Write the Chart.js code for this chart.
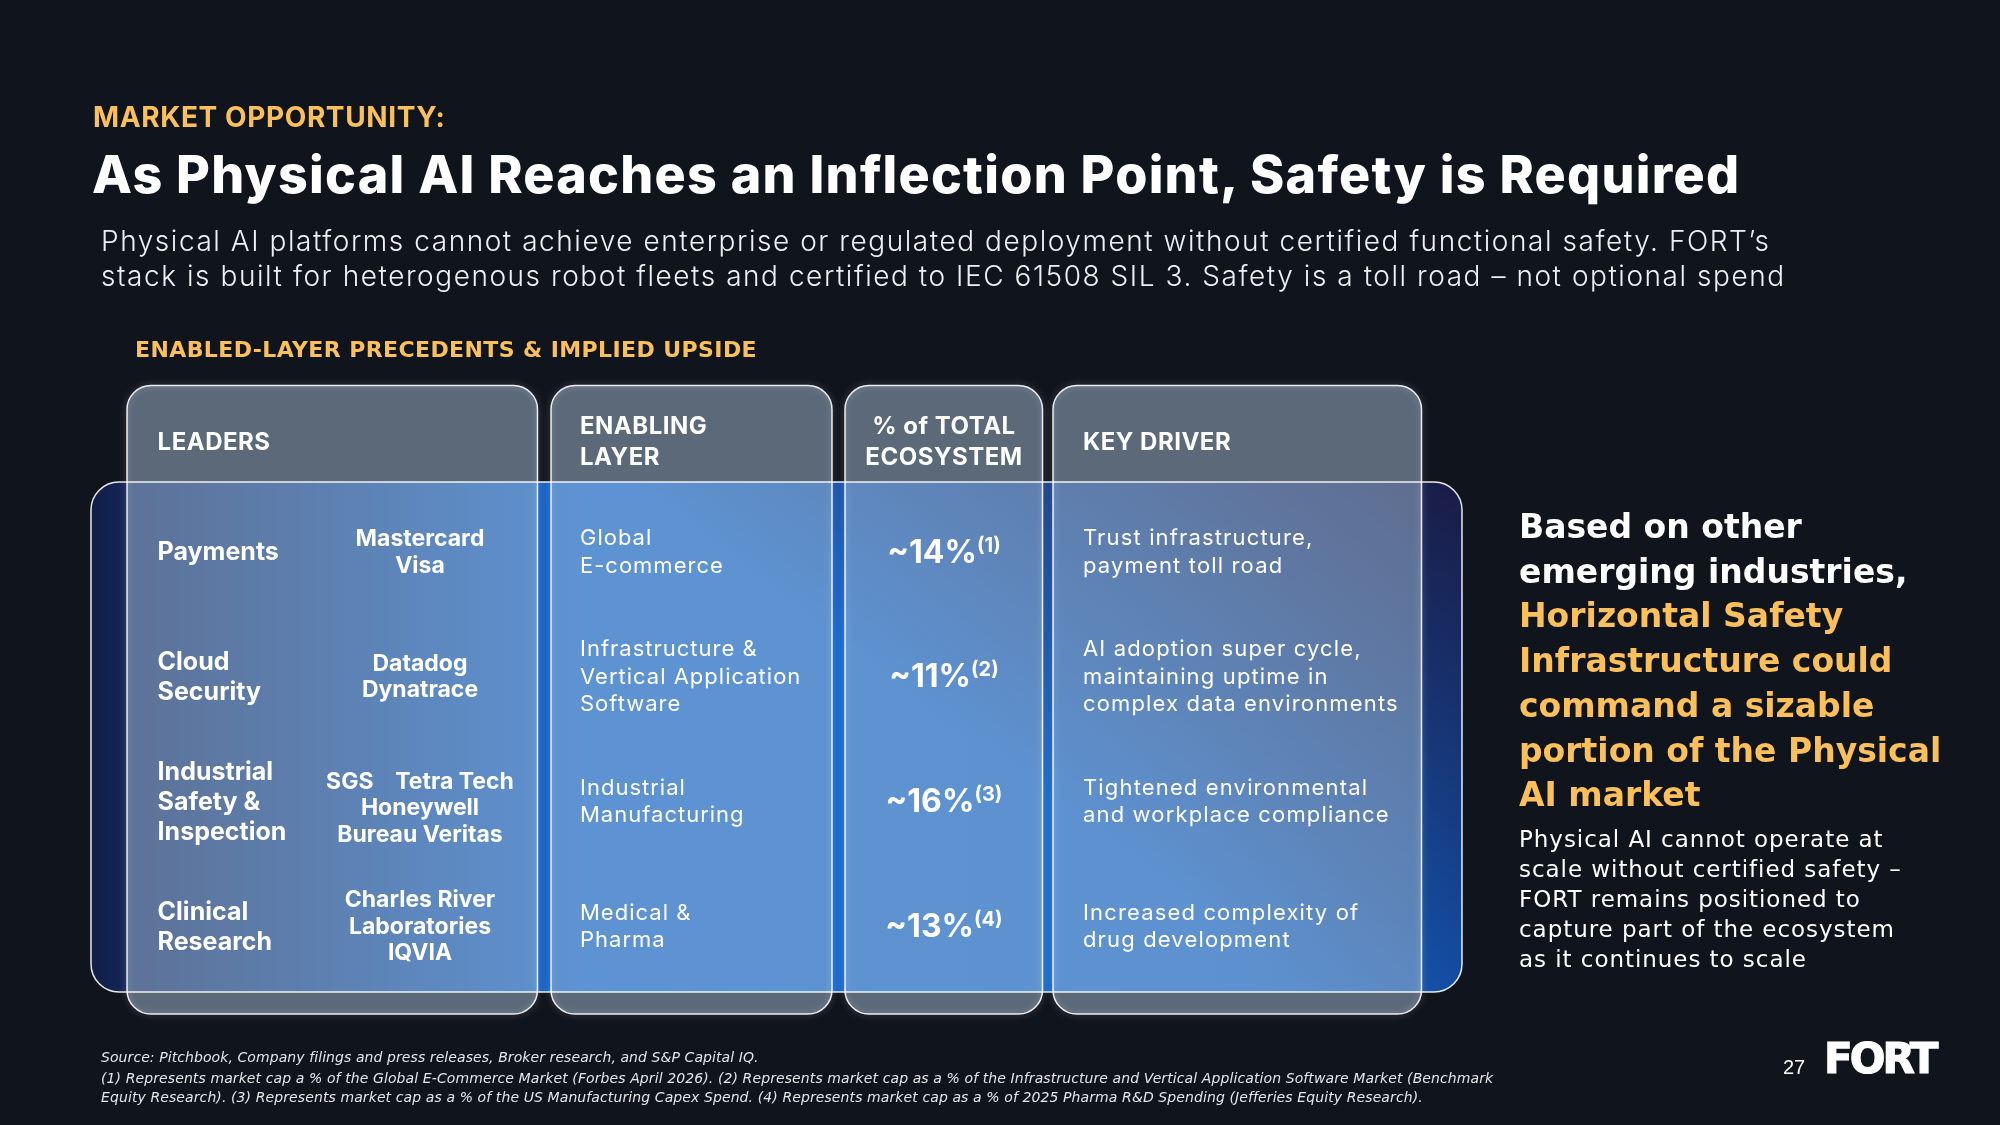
<!DOCTYPE html>
<html>
<head>
<meta charset="utf-8">
<script src="https://cdn.jsdelivr.net/npm/chart.js@4.4.1/dist/chart.umd.min.js"></script>
<style>
  html, body { margin: 0; padding: 0; background: #10141d; }
  #page { position: relative; width: 2000px; height: 1125px; overflow: hidden; background: #10141d; color: #fff; font-family: Inter, "Noto Sans", sans-serif; }
  #chartBox { position: absolute; left: 0; top: 0; width: 2000px; height: 1125px; }
  .t { position: absolute; white-space: nowrap; }
  .kicker { left: 93px; top: 103px; font: 700 28px/28px Inter, sans-serif; color: #fbc05a; letter-spacing: 0.6px; }
  .title { left: 92px; top: 149px; font: 800 52px/52px Inter, sans-serif; color: #fff; letter-spacing: 1.25px; }
  .sub { left: 101px; top: 224px; font: 300 28px/35px Inter, sans-serif; color: #eef0f3; letter-spacing: 1.55px; }
  .section { left: 135px; top: 339px; font: 700 22px/22px "DejaVu Sans", sans-serif; color: #fbc05a; letter-spacing: 0.4px; }
  .sideHead { left: 1519px; top: 505px; font: 700 33px/44.7px "DejaVu Sans", sans-serif; color: #fff; }
  .sideHead .hl { color: #fbc05a; }
  .sideBody { left: 1519px; top: 824px; font: 400 23px/30px "DejaVu Sans", sans-serif; color: #fff; letter-spacing: 0.95px; }
  .src { left: 101px; top: 1048px; font: italic 400 14px/19px "DejaVu Sans", sans-serif; color: #e4e6ea; letter-spacing: 0.08px; }
  .notes { left: 101px; top: 1069px; font: italic 400 14px/19px "DejaVu Sans", sans-serif; color: #e4e6ea; letter-spacing: 0.1px; }
  .pageNo { left: 1783px; top: 1057px; font: 400 20px/20px "Liberation Sans", Arial, sans-serif; color: #fff; }
  .logo { left: 1824px; top: 1038px; font: 700 42px/42px "DejaVu Sans", sans-serif; color: #fff; letter-spacing: -3px; -webkit-text-stroke: 1.2px #fff; }
</style>
</head>
<body>
<div id="page">
  <div id="chartBox"><canvas id="tableChart"></canvas></div>

  <div class="t kicker">MARKET OPPORTUNITY:</div>
  <div class="t title">As Physical AI Reaches an Inflection Point, Safety is Required</div>
  <div class="t sub">Physical AI platforms cannot achieve enterprise or regulated deployment without certified functional safety. FORT’s<br>stack is built for heterogenous robot fleets and certified to IEC 61508 SIL 3. Safety is a toll road – not optional spend</div>
  <div class="t section">ENABLED-LAYER PRECEDENTS &amp; IMPLIED UPSIDE</div>

  <div class="t sideHead">Based on other<br>emerging industries,<br><span class="hl">Horizontal Safety<br>Infrastructure could<br>command a sizable<br>portion of the Physical<br>AI market</span></div>
  <div class="t sideBody">Physical AI cannot operate at<br>scale without certified safety –<br>FORT remains positioned to<br>capture part of the ecosystem<br>as it continues to scale</div>

  <div class="t src">Source: Pitchbook, Company filings and press releases, Broker research, and S&amp;P Capital IQ.</div>
  <div class="t notes">(1) Represents market cap a % of the Global E-Commerce Market (Forbes April 2026). (2) Represents market cap as a % of the Infrastructure and Vertical Application Software Market (Benchmark<br>Equity Research). (3) Represents market cap as a % of the US Manufacturing Capex Spend. (4) Represents market cap as a % of 2025 Pharma R&amp;D Spending (Jefferies Equity Research).</div>
  <div class="t pageNo">27</div>
  <div class="t logo">FORT</div>
</div>

<script>
// table content, one entry per row
const headers = [["LEADERS"], ["ENABLING", "LAYER"], ["% of TOTAL", "ECOSYSTEM"], ["KEY DRIVER"]];
const sectors = [["Payments"], ["Cloud", "Security"], ["Industrial", "Safety &", "Inspection"], ["Clinical", "Research"]];
const leaders = [["Mastercard", "Visa"], ["Datadog", "Dynatrace"], ["SGS    Tetra Tech", "Honeywell", "Bureau Veritas"], ["Charles River", "Laboratories", "IQVIA"]];
const layers = [["Global", "E-commerce"], ["Infrastructure &", "Vertical Application", "Software"], ["Industrial", "Manufacturing"], ["Medical &", "Pharma"]];
const shares = [14, 11, 16, 13];
const footnotes = ["(1)", "(2)", "(3)", "(4)"];
const drivers = [["Trust infrastructure,", "payment toll road"], ["AI adoption super cycle,", "maintaining uptime in", "complex data environments"], ["Tightened environmental", "and workplace compliance"], ["Increased complexity of", "drug development"]];

const rowKeys = sectors.map(s => s.join(" "));

// layout of the columns, in x-scale units (px from band left edge)
const colSpans = [[36, 446.5], [460, 741], [754, 951.5], [962, 1330.5]];
const FONT = "Inter, 'Noto Sans', sans-serif";

function drawLines(ctx, lines, x, cy, lh, size) {
    const cap = size * 0.727;
    const first = cy - (lines.length - 1) * lh / 2 + cap / 2;
    lines.forEach((s, k) => ctx.fillText(s, x, first + k * lh));
}

const tablePlugin = {
    id: "tablePlugin",
    afterDraw(chart) {
        const { ctx, chartArea, scales } = chart;
        const xs = scales.x, ys = scales.y;
        const bandL = xs.getPixelForValue(0), bandR = xs.getPixelForValue(1371);
        const bandT = chartArea.top - 6.5, bandB = chartArea.bottom + 4;
        const boxT = bandT - 96.5, boxB = bandB + 22;

        ctx.save();
        // blue band
        const g = ctx.createLinearGradient(bandL, 0, bandR, 0);
        g.addColorStop(0, "#111e48");
        g.addColorStop(0.03, "#14275a");
        g.addColorStop(0.36, "#1668cf");
        g.addColorStop(0.8, "#1565ca");
        g.addColorStop(1, "#1258b6");
        ctx.beginPath();
        ctx.roundRect(bandL, bandT, bandR - bandL, bandB - bandT, 28);
        ctx.fillStyle = g;
        ctx.fill();
        const g2 = ctx.createLinearGradient(bandR, bandT, bandR - 330, bandB - 60);
        g2.addColorStop(0, "rgba(26,27,68,1)");
        g2.addColorStop(0.9, "rgba(26,27,68,0)");
        ctx.fillStyle = g2;
        ctx.fill();

        // column boxes
        colSpans.forEach(([a, b]) => {
            const x0 = xs.getPixelForValue(a), x1 = xs.getPixelForValue(b);
            ctx.beginPath();
            ctx.roundRect(x0, boxT, x1 - x0, boxB - boxT, 24);
            ctx.fillStyle = "rgba(166,190,214,0.5)";
            ctx.fill();
        });
        ctx.shadowColor = "rgba(255,255,255,0.45)";
        ctx.shadowBlur = 7;
        ctx.strokeStyle = "rgba(255,255,255,0.9)";
        ctx.lineWidth = 1.5;
        colSpans.forEach(([a, b]) => {
            const x0 = xs.getPixelForValue(a), x1 = xs.getPixelForValue(b);
            ctx.beginPath();
            ctx.roundRect(x0, boxT, x1 - x0, boxB - boxT, 24);
            ctx.stroke();
        });
        ctx.shadowBlur = 0;
        ctx.beginPath();
        ctx.roundRect(bandL, bandT, bandR - bandL, bandB - bandT, 28);
        ctx.stroke();

        // header row
        ctx.fillStyle = "#ffffff";
        const hy = bandT - 41;
        ctx.font = "700 24px " + FONT;
        ctx.letterSpacing = "0.5px";
        ctx.textAlign = "left";
        drawLines(ctx, headers[0], xs.getPixelForValue(66.6), hy, 31, 24);
        drawLines(ctx, headers[1], xs.getPixelForValue(489), hy, 31, 24);
        ctx.textAlign = "center";
        drawLines(ctx, headers[2], xs.getPixelForValue(853), hy, 31, 24);
        ctx.textAlign = "left";
        drawLines(ctx, headers[3], xs.getPixelForValue(992), hy, 31, 24);
        ctx.letterSpacing = "0px";

        // body rows
        rowKeys.forEach((key, i) => {
            const cy = ys.getPixelForValue(i);

            ctx.textAlign = "left";
            ctx.font = "700 25px " + FONT;
            drawLines(ctx, sectors[i], xs.getPixelForValue(66.6), cy, 30, 25);

            ctx.textAlign = "center";
            ctx.font = "700 23px " + FONT;
            drawLines(ctx, leaders[i], xs.getPixelForValue(329), cy + (leaders[i].length > 2 && i === 2 ? 6 : 0), 26.5, 23);

            ctx.textAlign = "left";
            ctx.font = "400 22px " + FONT;
            ctx.letterSpacing = "1px";
            drawLines(ctx, layers[i], xs.getPixelForValue(489), cy, 27.5, 22);
            ctx.letterSpacing = "1.15px";
            drawLines(ctx, drivers[i], xs.getPixelForValue(992), cy, 27.5, 22);
            ctx.letterSpacing = "0px";

            // share + footnote
            const main = "~" + shares[i] + "%";
            ctx.font = "700 32px " + FONT;
            const w1 = ctx.measureText(main).width;
            ctx.font = "700 20px " + FONT;
            const w2 = ctx.measureText(footnotes[i]).width;
            const cx = xs.getPixelForValue(853);
            const start = cx - (w1 + w2) / 2;
            const base = cy + 32 * 0.727 / 2;
            ctx.textAlign = "left";
            ctx.font = "700 32px " + FONT;
            ctx.fillText(main, start, base);
            ctx.font = "700 20px " + FONT;
            ctx.fillText(footnotes[i], start + w1, base - 11);
        });
        ctx.restore();
    }
};

new Chart(document.getElementById("tableChart"), {
    type: "scatter",
    data: { datasets: [] },
    options: {
        responsive: true,
        maintainAspectRatio: false,
        animation: false,
        events: [],
        layout: { padding: { left: 91, right: 538, top: 488.5, bottom: 137 } },
        plugins: { legend: { display: false }, tooltip: { enabled: false } },
        scales: {
            x: { type: "linear", min: 0, max: 1371, display: false },
            y: { type: "category", labels: rowKeys, offset: true, display: false }
        }
    },
    plugins: [tablePlugin]
});
</script>
</body>
</html>
